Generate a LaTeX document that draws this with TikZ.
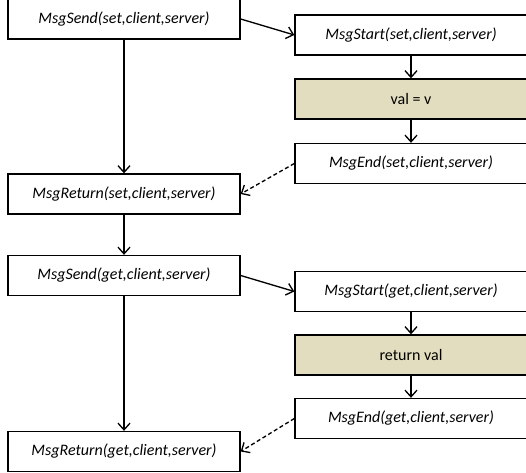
\documentclass[tikz,border=0pt]{standalone}
\usepackage{fontspec}
\setmainfont{Carlito}
\usetikzlibrary{arrows.meta}
\tikzset{>={Straight Barb[length=5pt,width=9pt]}}
\definecolor{workfill}{RGB}{226,221,190}

\begin{document}
\begin{tikzpicture}[x=0.75pt,y=-0.75pt,
    msgbox/.style={draw,line width=1pt,minimum width=174pt,minimum height=30pt,inner sep=0pt,font=\fontsize{12}{14}\selectfont\itshape},
    workbox/.style={msgbox,fill=workfill,font=\fontsize{12}{14}\selectfont},
    flow/.style={line width=1pt,->},
    reply/.style={line width=1pt,->,dash pattern=on 3pt off 2pt}]
        \useasboundingbox (0,0) rectangle (526,473);
        % client side
        \node[msgbox] (send1) at (124,19) {MsgSend(set,client,server)};
        \node[msgbox] (ret1) at (124,194) {MsgReturn(set,client,server)};
        \node[msgbox] (send2) at (124,275.5) {MsgSend(get,client,server)};
        \node[msgbox] (ret2) at (124,451.5) {MsgReturn(get,client,server)};
        % server side
        \node[msgbox] (start1) at (411,35) {MsgStart(set,client,server)};
        \node[workbox] (val1) at (411,99) {val = v};
        \node[msgbox] (end1) at (411,163.5) {MsgEnd(set,client,server)};
        \node[msgbox] (start2) at (411,291.5) {MsgStart(get,client,server)};
        \node[workbox] (val2) at (411,355) {return val};
        \node[msgbox] (end2) at (411,418.5) {MsgEnd(get,client,server)};
        \draw[flow] (send1) -- (ret1);
        \draw[flow] (ret1) -- (send2);
        \draw[flow] (send2) -- (ret2);
        \draw[flow] (send1.east) -- (start1.west);
        \draw[flow] (send2.east) -- (start2.west);
        \draw[flow] (start1) -- (val1);
        \draw[flow] (val1) -- (end1);
        \draw[flow] (start2) -- (val2);
        \draw[flow] (val2) -- (end2);
        \draw[reply] (end1.west) -- (ret1.east);
        \draw[reply] (end2.west) -- (ret2.east);
      \end{tikzpicture}
\end{document}
